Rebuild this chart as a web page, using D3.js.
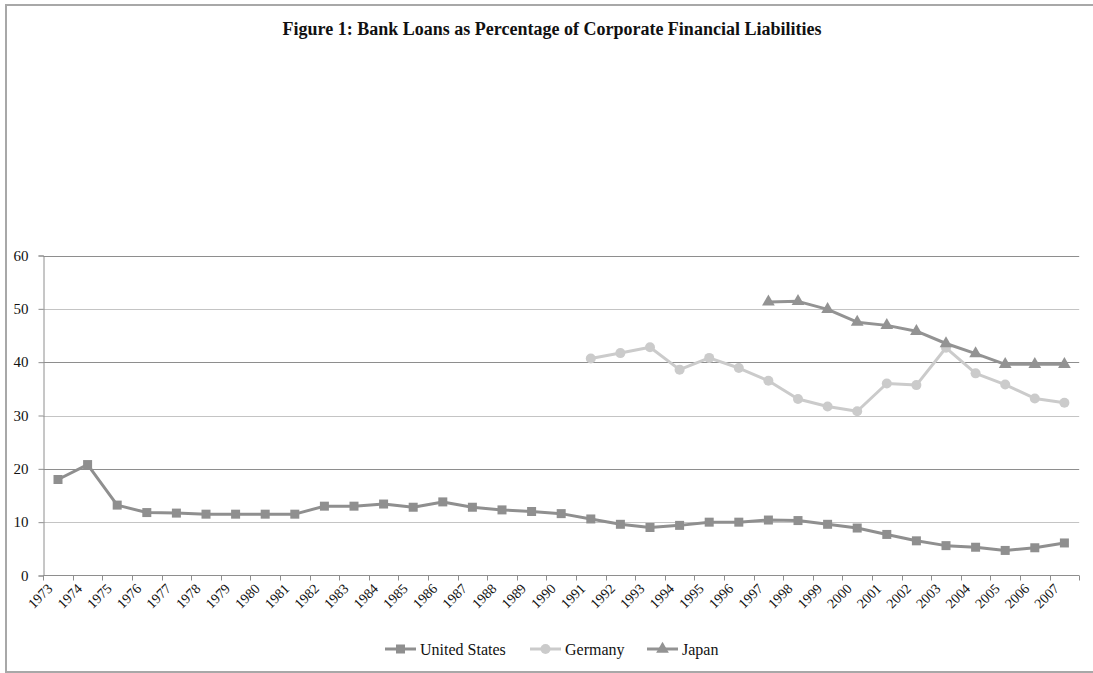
<!DOCTYPE html>
<html><head><meta charset="utf-8">
<script src="https://cdn.jsdelivr.net/npm/d3@7"></script>
<style>html,body{margin:0;padding:0;background:#fff;}svg{display:block;}</style>
</head><body>
<svg id="chart" width="1093" height="673"></svg>
<script>
const years = ["1973","1974","1975","1976","1977","1978","1979","1980","1981","1982","1983","1984","1985","1986","1987","1988","1989","1990","1991","1992","1993","1994","1995","1996","1997","1998","1999","2000","2001","2002","2003","2004","2005","2006","2007"];
const unitedStates = [18.0,20.8,13.2,11.8,11.7,11.5,11.5,11.5,11.5,13.0,13.0,13.4,12.8,13.8,12.8,12.3,12.0,11.6,10.6,9.6,9.0,9.4,10.0,10.0,10.4,10.3,9.6,8.9,7.7,6.5,5.6,5.3,4.7,5.2,6.1];
const germany = [null,null,null,null,null,null,null,null,null,null,null,null,null,null,null,null,null,null,40.7,41.7,42.8,38.6,40.8,38.9,36.5,33.1,31.7,30.8,36.0,35.7,42.7,37.9,35.8,33.2,32.4];
const japan = [null,null,null,null,null,null,null,null,null,null,null,null,null,null,null,null,null,null,null,null,null,null,null,null,51.3,51.4,49.9,47.5,46.9,45.8,43.5,41.6,39.6,39.6,39.6];
const yTicks = [0,10,20,30,40,50,60];
const seriesNames = ["United States","Germany","Japan"];

const svg = d3.select("#chart");
const font = "'Liberation Serif', 'DejaVu Serif', serif";
const colUS = "#8f8f8f", colDE = "#cbcbcb", colJP = "#939393";

// frame
svg.append("rect").attr("x",6).attr("y",5).attr("width",1100).attr("height",667)
  .attr("fill","none").attr("stroke","#a8a8a8").attr("stroke-width",2);

svg.append("text").attr("x",552).attr("y",35).attr("text-anchor","middle")
  .attr("font-family",font).attr("font-weight","bold").attr("font-size",18)
  .attr("fill","#111").text("Figure 1: Bank Loans as Percentage of Corporate Financial Liabilities");

const x = d3.scaleBand().domain(years).range([43.2,1079.2]);
const y = d3.scaleLinear().domain([0,60]).range([575.5,255.5]);
const cx = d => x(d) + x.bandwidth()/2;

// gridlines
svg.append("g").selectAll("line").data(yTicks.filter(t=>t>0)).join("line")
  .attr("x1",43.2).attr("x2",1079.2)
  .attr("y1",d=>Math.round(y(d))+0.5).attr("y2",d=>Math.round(y(d))+0.5)
  .attr("stroke",d=> (d/10)%2===0 ? "#8e8e8e" : "#c4c4c4").attr("stroke-width",1);

// y axis
const yAxis = svg.append("g").attr("transform","translate(43.5,0)")
  .call(d3.axisLeft(y).tickValues(yTicks).tickSize(5).tickPadding(10).tickFormat(d3.format("d")));
yAxis.select(".domain").attr("stroke","#8e8e8e");
yAxis.selectAll(".tick line").attr("stroke","#8e8e8e");
yAxis.selectAll("text").attr("font-family",font).attr("font-size",15).attr("fill","#111");

// x axis line + ticks at band boundaries
const xg = svg.append("g");
xg.append("line").attr("x1",43.2).attr("x2",1079.2).attr("y1",575.5).attr("y2",575.5).attr("stroke","#8e8e8e");
const bounds = years.map(d=>x(d)).concat([x(years[years.length-1])+x.bandwidth()]);
xg.selectAll("line.tk").data(bounds).join("line").attr("class","tk")
  .attr("x1",d=>Math.round(d)+0.5).attr("x2",d=>Math.round(d)+0.5).attr("y1",575.5).attr("y2",580.5).attr("stroke","#8e8e8e");
xg.selectAll("text").data(years).join("text")
  .attr("transform",d=>`translate(${cx(d)-8},${586}) rotate(-45)`)
  .attr("text-anchor","end").attr("dy","0.35em")
  .attr("font-family",font).attr("font-size",14).attr("fill","#111").text(d=>d);

// lines
const line = d3.line().defined(d=>d[1]!=null).x(d=>cx(d[0])).y(d=>y(d[1]));
function drawSeries(vals,color,shape){
  const data = years.map((yr,i)=>[yr,vals[i]]);
  svg.append("path").datum(data).attr("d",line).attr("fill","none")
    .attr("stroke",color).attr("stroke-width",3).attr("stroke-linejoin","round");
  const pts = data.filter(d=>d[1]!=null);
  const g = svg.append("g");
  if(shape==="square"){
    g.selectAll("rect").data(pts).join("rect")
      .attr("x",d=>cx(d[0])-4.5).attr("y",d=>y(d[1])-4.5).attr("width",9).attr("height",9).attr("fill",color);
  } else if(shape==="circle"){
    g.selectAll("circle").data(pts).join("circle")
      .attr("cx",d=>cx(d[0])).attr("cy",d=>y(d[1])).attr("r",5).attr("fill",color);
  } else {
    g.selectAll("path").data(pts).join("path")
      .attr("d",d3.symbol(d3.symbolTriangle,70))
      .attr("transform",d=>`translate(${cx(d[0])},${y(d[1])})`).attr("fill",color);
  }
}
drawSeries(germany,colDE,"circle");
drawSeries(japan,colJP,"triangle");
drawSeries(unitedStates,colUS,"square");

// legend
const legendItems = [
  {name:seriesNames[0],color:colUS,shape:"square",x:385},
  {name:seriesNames[1],color:colDE,shape:"circle",x:530},
  {name:seriesNames[2],color:colJP,shape:"triangle",x:647}
];
const ly = 649;
legendItems.forEach(it=>{
  const g = svg.append("g");
  g.append("line").attr("x1",it.x).attr("x2",it.x+31).attr("y1",ly).attr("y2",ly)
    .attr("stroke",it.color).attr("stroke-width",3);
  const mx = it.x+15.5;
  if(it.shape==="square") g.append("rect").attr("x",mx-4.5).attr("y",ly-4.5).attr("width",9).attr("height",9).attr("fill",it.color);
  else if(it.shape==="circle") g.append("circle").attr("cx",mx).attr("cy",ly).attr("r",5).attr("fill",it.color);
  else g.append("path").attr("d",d3.symbol(d3.symbolTriangle,70)).attr("transform",`translate(${mx},${ly})`).attr("fill",it.color);
  g.append("text").attr("x",it.x+35).attr("y",ly).attr("dy","0.35em")
    .attr("font-family",font).attr("font-size",16).attr("fill","#111").text(it.name);
});
</script>
</body></html>
